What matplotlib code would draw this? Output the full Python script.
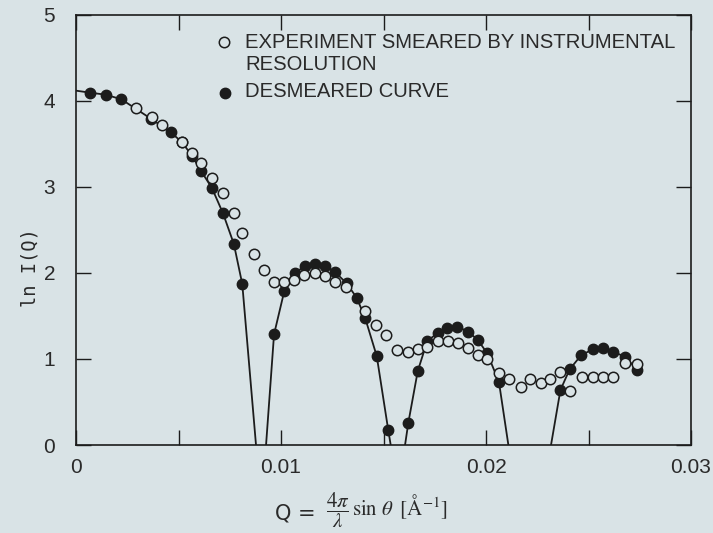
import numpy as np
import matplotlib
matplotlib.use("Agg")
from matplotlib import pyplot as plt

# smeared experimental points (open circles)
smeared_q = [0.00291, 0.00369, 0.00421, 0.00516, 0.00564, 0.0061, 0.00663, 0.00716,
             0.00772, 0.00812, 0.00868, 0.00919, 0.00964, 0.01016, 0.01064, 0.01113,
             0.01164, 0.01216, 0.01263, 0.01319, 0.0141, 0.01463, 0.01512, 0.01564,
             0.01617, 0.01666, 0.01714, 0.01764, 0.01816, 0.01865, 0.01914, 0.01962,
             0.02007, 0.02062, 0.02114, 0.02169, 0.02215, 0.02266, 0.02311, 0.02361,
             0.02408, 0.02467, 0.0252, 0.02572, 0.02621, 0.02678, 0.02738]
smeared_lnI = [3.922, 3.817, 3.721, 3.527, 3.399, 3.279, 3.108, 2.93,
               2.698, 2.465, 2.217, 2.035, 1.899, 1.899, 1.919, 1.977,
               2.0, 1.965, 1.892, 1.841, 1.558, 1.395, 1.279, 1.105,
               1.085, 1.113, 1.136, 1.213, 1.209, 1.19, 1.124, 1.047,
               0.997, 0.834, 0.767, 0.671, 0.767, 0.717, 0.764, 0.852,
               0.628, 0.787, 0.787, 0.787, 0.787, 0.957, 0.942]

# desmeared points (filled circles)
desmeared_q = [0.00068, 0.00145, 0.00221, 0.00368, 0.00463, 0.00516, 0.00565, 0.0061,
               0.00663, 0.00717, 0.0077, 0.00811,
               0.00966, 0.01016, 0.01068, 0.01115, 0.01165, 0.01214, 0.01263, 0.0132,
               0.01369, 0.0141, 0.01467, 0.01523,
               0.01621, 0.01667, 0.01714, 0.01764, 0.01811, 0.0186, 0.01914, 0.0196,
               0.02006, 0.02063,
               0.02363, 0.02408, 0.02463, 0.0252, 0.02571, 0.02618, 0.02678, 0.02738]
desmeared_lnI = [4.097, 4.073, 4.02, 3.79, 3.634, 3.523, 3.366, 3.186,
                 2.988, 2.694, 2.337, 1.872,
                 1.287, 1.79, 1.997, 2.081, 2.105, 2.081, 2.012, 1.88,
                 1.713, 1.48, 1.033, 0.174,
                 0.259, 0.86, 1.213, 1.299, 1.364, 1.376, 1.317, 1.221,
                 1.066, 0.733,
                 0.64, 0.88, 1.041, 1.113, 1.124, 1.085, 1.027, 0.872]

# where the desmeared curve starts and where it drops to ln I = 0
curve_start = (0.0, 4.12)
zero_q = [0.00878, 0.00927, 0.01535, 0.01605, 0.02109, 0.02317]

x_ticks = [0, 0.01, 0.02, 0.03]
x_ticklabels = ["0", "0.01", "0.02", "0.03"]
y_ticks = [0, 1, 2, 3, 4, 5]

bg = "#d9e3e6"
ink = "#1c1c1c"
txt = "#2a2a2a"

# build the solid curve: start point, filled points, zero crossings, gaps between lobes
dq = np.array(desmeared_q)
dl = np.array(desmeared_lnI)
curve_q = [curve_start[0]]
curve_l = [curve_start[1]]
edges = [0.0] + zero_q + [1.0]
for i in range(0, len(edges) - 1, 2):
    lo, hi = edges[i], edges[i + 1]
    sel = (dq > lo) & (dq < hi)
    if i > 0:
        curve_q += [np.nan, lo]
        curve_l += [np.nan, 0.0]
    curve_q += list(dq[sel])
    curve_l += list(dl[sel])
    if hi < 1.0:
        curve_q.append(hi)
        curve_l.append(0.0)

plt.rcParams["font.family"] = ["Liberation Sans", "DejaVu Sans"]
plt.rcParams["mathtext.fontset"] = "stix"
fig = plt.figure(figsize=(7.13, 5.33), dpi=100, facecolor=bg)
ax = fig.add_axes([0.1066, 0.1651, 0.8626, 0.8068], facecolor=bg)

ax.plot(curve_q, curve_l, color=ink, lw=1.3, zorder=2)
ax.plot(desmeared_q, desmeared_lnI, "o", ms=7.5, mfc=ink, mec=ink, mew=1.0, zorder=3)
ax.plot(smeared_q, smeared_lnI, "o", ms=7.5, mfc=bg, mec=ink, mew=1.1, zorder=4)

ax.set_xlim(0, 0.03)
ax.set_ylim(0, 5)
ax.set_xticks(x_ticks)
ax.set_xticklabels(x_ticklabels)
ax.set_xticks(np.arange(0.005, 0.03, 0.01), minor=True)
ax.set_yticks(y_ticks)
ax.tick_params(which="both", direction="in", length=11, width=1.0, color=ink,
               top=True, right=True, labelsize=15, labelcolor=txt)
ax.tick_params(axis="x", which="major", pad=9)
ax.tick_params(axis="y", which="major", pad=15)
for s in ax.spines.values():
    s.set_color(ink)
    s.set_linewidth(1.2)

# legend drawn by hand, first label wraps onto a second line
ax.plot([0.2407], [0.937], "o", ms=7.5, mfc=bg, mec=ink, mew=1.1, transform=ax.transAxes, clip_on=False)
ax.plot([0.243], [0.8186], "o", ms=7.5, mfc=ink, mec=ink, transform=ax.transAxes, clip_on=False)
for y, label in [(0.937, "EXPERIMENT SMEARED BY INSTRUMENTAL"),
                 (0.8837, "RESOLUTION"),
                 (0.821, "DESMEARED CURVE")]:
    ax.text(0.2748, y, label, transform=ax.transAxes, fontsize=14.6, va="center", color=txt)

fig.text(30 / 713, 1 - 268 / 533, "ln I(Q)", rotation=90, ha="center", va="center",
         fontsize=13.5, family="DejaVu Sans Mono", color=txt)
fig.text(322 / 713, 1 - 513 / 533, "Q = ", ha="right", va="center", fontsize=15,
         family="DejaVu Sans", color=txt)
fig.text(326 / 713, 1 - 510 / 533,
         r"$\dfrac{4\pi}{\lambda}\,\sin\,\theta\;\;[\mathrm{\AA}^{-1}]$",
         ha="left", va="center", fontsize=15, color=txt)

plt.savefig("out.png", dpi=100, facecolor=bg)
